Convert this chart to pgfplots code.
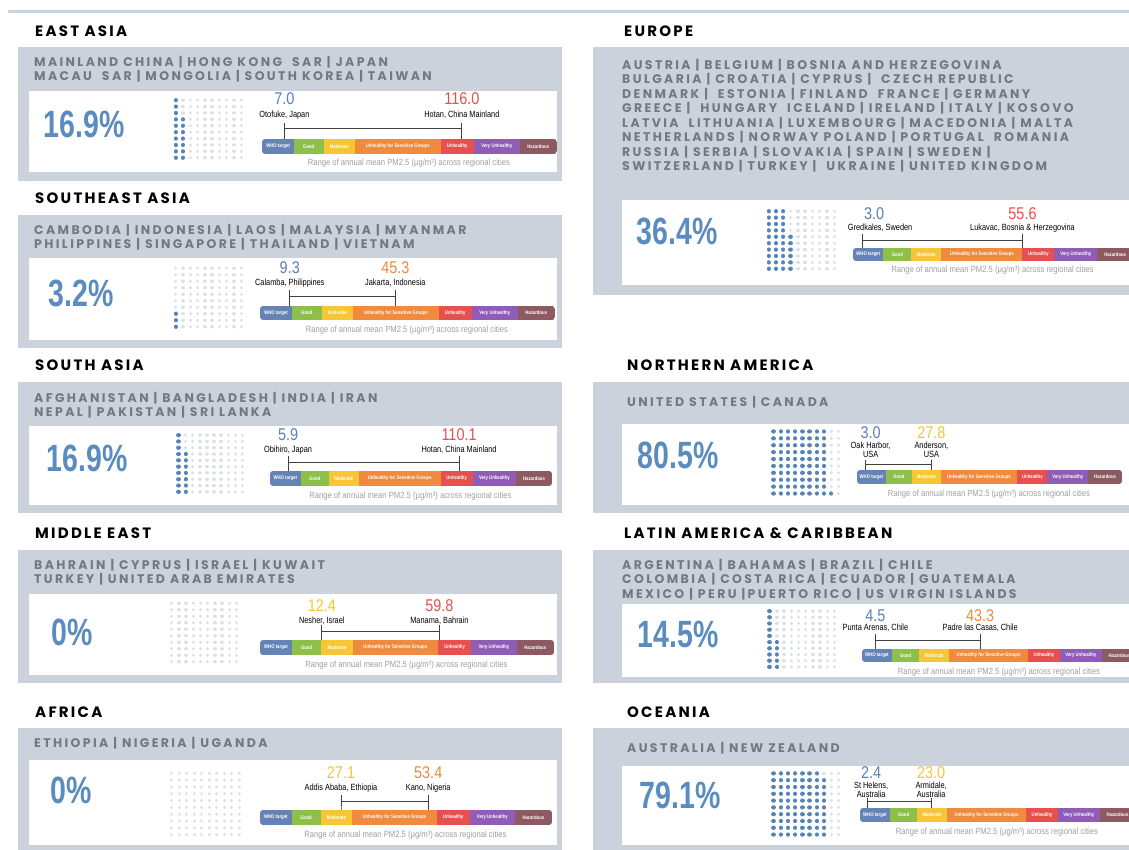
\documentclass[border=0pt]{standalone}
\usepackage{pgfplots}
\pgfplotsset{compat=1.18}
\usepackage{fontspec}
\setmainfont{Liberation Sans}
\newfontfamily\tfont[LetterSpace=15]{Poppins}
\newfontfamily\cfont[LetterSpace=19]{Poppins}
\newfontfamily\nfont[FakeStretch=0.75]{Liberation Sans}
\newfontfamily\mfont[FakeStretch=0.85]{Liberation Sans}
\newfontfamily\sfont[FakeStretch=0.82]{Liberation Sans}
\newfontfamily\kfont[FakeStretch=0.85]{Liberation Sans}

\definecolor{band}{HTML}{CBD2DC}
\definecolor{ctext}{HTML}{737983}
\definecolor{pct}{HTML}{5B8CBF}
\definecolor{wblue}{HTML}{5584B8}
\definecolor{wgrey}{HTML}{DCE0E6}
\definecolor{cWHO}{HTML}{6584B5}
\definecolor{cGood}{HTML}{8EBF48}
\definecolor{cMod}{HTML}{F6C637}
\definecolor{cUSG}{HTML}{EF8A3E}
\definecolor{cUnh}{HTML}{E6504F}
\definecolor{cVU}{HTML}{8F5CB6}
\definecolor{cHaz}{HTML}{8C5A60}
\definecolor{topline}{HTML}{C9D4E0}
\definecolor{capgrey}{HTML}{A0A0A0}
\definecolor{nblue}{HTML}{5B80B6}

\tikzset{
 ttl/.style={anchor=west, font=\fontsize{15}{17}\selectfont\tfont\bfseries, text=black, inner sep=0pt},
 ctry/.style={anchor=north west, align=left, font=\fontsize{12.5}{14.5}\selectfont\cfont\bfseries, text=ctext, inner sep=0pt},
 pctn/.style={font=\fontsize{38}{40}\selectfont\nfont\bfseries, text=pct, inner sep=0pt},
 numl/.style={font=\fontsize{17}{18}\selectfont\mfont, inner sep=0pt},
 lab/.style={font=\fontsize{9}{9.5}\selectfont\sfont, text=black, inner sep=0pt, align=center},
 capt/.style={font=\fontsize{9}{10}\selectfont\kfont, text=capgrey, inner sep=0pt},
 seg/.style={font=\fontsize{5.2}{6}\selectfont\sfont\bfseries, text=white, inner sep=0pt},
}

\pgfplotsset{
 rangeax/.style n args={3}{at={(#1pt,#2pt)}, anchor=south west, width=#3pt, height=10pt,
   scale only axis, xmin=0, xmax=500, ymin=0, ymax=10, hide axis, clip=false,
   xtick=\empty, ytick=\empty,
   x coord trafo/.code={\pgfmathparse{##1<10 ? ##1*3.2 : (##1<12 ? 32+(##1-10)*14.75 : (##1<35.4 ? 61.5+(##1-12)*1.34615 : (##1<55.4 ? 93+(##1-35.4)*4.275 : (##1<150.4 ? 178.5+(##1-55.4)*0.352632 : (##1<250.4 ? 212+(##1-150.4)*0.455 : 257.5+(##1-250.4)*0.150240)))))}}},
 waffax/.style n args={4}{at={(#1pt,#2pt)}, anchor=south west, width=#3pt, height=#4pt,
   scale only axis, xmin=0.5, xmax=10.5, ymin=0, ymax=10, hide axis, clip=false,
   xtick=\empty, ytick=\empty},
 wdots/.style={draw=#1, mark=none, line cap=round, unbounded coords=jump,
   dash pattern={on 0.01pt off \woff pt}, dash phase=\wph pt},
}
\newcommand\setw[1]{\pgfmathsetmacro\woff{#1/10-0.01}\pgfmathsetmacro\wph{#1/20}}
\newcommand\wafflebg{\addplot[wdots=wgrey, line width=3.4pt] coordinates {(1,0)(1,10)(1,nan)(2,0)(2,10)(2,nan)(3,0)(3,10)(3,nan)(4,0)(4,10)(4,nan)(5,0)(5,10)(5,nan)(6,0)(6,10)(6,nan)(7,0)(7,10)(7,nan)(8,0)(8,10)(8,nan)(9,0)(9,10)(9,nan)(10,0)(10,10)};}

% bar height, half height
\newcommand\scalebar[2]{%
 \begin{scope}
 \clip[rounded corners=3pt] (axis cs:0,0) rectangle (axis cs:500,#1);
 \fill[cWHO] (axis cs:0,0) rectangle (axis cs:10,#1);
 \fill[cGood] (axis cs:10,0) rectangle (axis cs:12,#1);
 \fill[cMod] (axis cs:12,0) rectangle (axis cs:35.4,#1);
 \fill[cUSG] (axis cs:35.4,0) rectangle (axis cs:55.4,#1);
 \fill[cUnh] (axis cs:55.4,0) rectangle (axis cs:150.4,#1);
 \fill[cVU] (axis cs:150.4,0) rectangle (axis cs:250.4,#1);
 \fill[cHaz] (axis cs:250.4,0) rectangle (axis cs:500,#1);
 \end{scope}
 \node[seg] at (axis cs:5,#2) {WHO target};
 \node[seg] at (axis cs:11,#2) {Good};
 \node[seg] at (axis cs:23.7,#2) {Moderate};
 \node[seg] at (axis cs:45.4,#2) {Unhealthy for Sensitive Groups};
 \node[seg] at (axis cs:102.9,#2) {Unhealthy};
 \node[seg] at (axis cs:200.4,#2) {Very Unhealthy};
 \node[seg] at (axis cs:375,#2) {Hazardous};
}

\begin{document}
\begin{tikzpicture}
\begin{axis}[name=main, at={(0,0)}, anchor=south west, width=1129pt, height=850pt,
  scale only axis, xmin=0, xmax=1129, ymin=0, ymax=850, y dir=reverse,
  hide axis, clip=false, xtick=\empty, ytick=\empty]
 \fill[white] (axis cs:0,0) rectangle (axis cs:1129,850);
 \draw[topline, line width=3pt] (axis cs:8,12) -- (axis cs:1129,12);
 % grey bands
 \fill[band] (axis cs:18,47) rectangle (axis cs:562,181);
 \fill[band] (axis cs:18,215) rectangle (axis cs:562,348);
 \fill[band] (axis cs:18,382) rectangle (axis cs:562,513);
 \fill[band] (axis cs:18,550) rectangle (axis cs:562,683);
 \fill[band] (axis cs:18,728) rectangle (axis cs:562,850);
 \fill[band] (axis cs:593,47) rectangle (axis cs:1129,295);
 \fill[band] (axis cs:593,382) rectangle (axis cs:1129,513);
 \fill[band] (axis cs:593,550) rectangle (axis cs:1129,683);
 \fill[band] (axis cs:593,728) rectangle (axis cs:1129,850);
 % white boxes
 \fill[white] (axis cs:29,91) rectangle (axis cs:557,172);
 \fill[white] (axis cs:29,258) rectangle (axis cs:557,340);
 \fill[white] (axis cs:29,426) rectangle (axis cs:557,505);
 \fill[white] (axis cs:29,594) rectangle (axis cs:557,675);
 \fill[white] (axis cs:29,760) rectangle (axis cs:557,845);
 \fill[white] (axis cs:622,200) rectangle (axis cs:1129,285);
 \fill[white] (axis cs:622,424) rectangle (axis cs:1129,505);
 \fill[white] (axis cs:622,604) rectangle (axis cs:1129,677);
 \fill[white] (axis cs:622,766) rectangle (axis cs:1129,845);
 % titles
 \node[ttl] at (axis cs:35,31) {EAST ASIA};
 \node[ttl] at (axis cs:35,198) {SOUTHEAST ASIA};
 \node[ttl] at (axis cs:35,365) {SOUTH ASIA};
 \node[ttl] at (axis cs:35,533) {MIDDLE EAST};
 \node[ttl] at (axis cs:35,712) {AFRICA};
 \node[ttl] at (axis cs:624,31) {EUROPE};
 \node[ttl] at (axis cs:627,365) {NORTHERN AMERICA};
 \node[ttl] at (axis cs:624,533) {LATIN AMERICA \& CARIBBEAN};
 \node[ttl] at (axis cs:627,712) {OCEANIA};
 % countries
 \node[ctry] at (axis cs:34,56) {MAINLAND CHINA | HONG KONG\ \ SAR | JAPAN\\MACAU\ \ SAR | MONGOLIA | SOUTH KOREA | TAIWAN};
 \node[ctry] at (axis cs:34,224) {CAMBODIA | INDONESIA | LAOS | MALAYSIA | MYANMAR\\PHILIPPINES | SINGAPORE | THAILAND | VIETNAM};
 \node[ctry] at (axis cs:34,392) {AFGHANISTAN | BANGLADESH | INDIA | IRAN\\NEPAL | PAKISTAN | SRI LANKA};
 \node[ctry] at (axis cs:34,559) {BAHRAIN | CYPRUS | ISRAEL | KUWAIT\\TURKEY | UNITED ARAB EMIRATES};
 \node[ctry] at (axis cs:34,737) {ETHIOPIA | NIGERIA | UGANDA};
 \node[ctry] at (axis cs:622,59) {AUSTRIA | BELGIUM | BOSNIA AND HERZEGOVINA\\BULGARIA | CROATIA | CYPRUS |\ \ CZECH REPUBLIC\\DENMARK |\ \ ESTONIA | FINLAND\ \ FRANCE | GERMANY\\GREECE |\ \ HUNGARY\ \ ICELAND | IRELAND | ITALY | KOSOVO\\LATVIA\ \ LITHUANIA | LUXEMBOURG | MACEDONIA | MALTA\\NETHERLANDS | NORWAY POLAND | PORTUGAL\ \ ROMANIA\\RUSSIA | SERBIA | SLOVAKIA | SPAIN | SWEDEN |\\SWITZERLAND | TURKEY |\ \ UKRAINE | UNITED KINGDOM};
 \node[ctry] at (axis cs:627,396) {UNITED STATES | CANADA};
 \node[ctry] at (axis cs:622,559) {ARGENTINA | BAHAMAS | BRAZIL | CHILE\\COLOMBIA | COSTA RICA | ECUADOR | GUATEMALA\\MEXICO | PERU |PUERTO RICO | US VIRGIN ISLANDS};
 \node[ctry] at (axis cs:627,742) {AUSTRALIA | NEW ZEALAND};
 % percentages
 \node[pctn] at (axis cs:84,124) {16.9\%};
 \node[pctn] at (axis cs:81,293) {3.2\%};
 \node[pctn] at (axis cs:87,458) {16.9\%};
 \node[pctn] at (axis cs:72,632) {0\%};
 \node[pctn] at (axis cs:71,790) {0\%};
 \node[pctn] at (axis cs:677,231) {36.4\%};
 \node[pctn] at (axis cs:678,455) {80.5\%};
 \node[pctn] at (axis cs:678,634) {14.5\%};
 \node[pctn] at (axis cs:680,795) {79.1\%};
\end{axis}

% ---------------- waffles ----------------
\setw{64}
\begin{axis}[waffax={172}{689}{73}{64}]
 \wafflebg
 \addplot[wdots=wblue, line width=4.3pt] coordinates {(1,0)(1,10)(1,nan)(2,0)(2,7)};
\end{axis}
\setw{65}
\begin{axis}[waffax={172}{520}{73}{65}]
 \wafflebg
 \addplot[wdots=wblue, line width=4.3pt] coordinates {(1,0)(1,3)};
\end{axis}
\setw{63}
\begin{axis}[waffax={175}{355}{71}{63}]
 \wafflebg
 \addplot[wdots=wblue, line width=4.3pt] coordinates {(1,0)(1,10)(1,nan)(2,0)(2,7)};
\end{axis}
\setw{65}
\begin{axis}[waffax={168}{185}{72}{65}]
 \wafflebg
\end{axis}
\setw{68}
\begin{axis}[waffax={168}{12}{75}{68}]
 \wafflebg
\end{axis}
\setw{64}
\begin{axis}[waffax={765}{578}{73}{64}]
 \wafflebg
 \addplot[wdots=wblue, line width=4.3pt] coordinates {(1,0)(1,10)(1,nan)(2,0)(2,10)(2,nan)(3,0)(3,10)(3,nan)(4,0)(4,6)};
\end{axis}
\setw{69}
\begin{axis}[waffax={770}{353}{72}{69}]
 \wafflebg
 \addplot[wdots=wblue, line width=4.3pt] coordinates {(1,0)(1,10)(1,nan)(2,0)(2,10)(2,nan)(3,0)(3,10)(3,nan)(4,0)(4,10)(4,nan)(5,0)(5,10)(5,nan)(6,0)(6,10)(6,nan)(7,0)(7,10)(7,nan)(8,0)(8,10)(8,nan)(9,0)(9,1)};
\end{axis}
\setw{62}
\begin{axis}[waffax={766}{180}{72}{62}]
 \wafflebg
 \addplot[wdots=wblue, line width=4.3pt] coordinates {(1,0)(1,10)(1,nan)(2,0)(2,5)};
\end{axis}
\setw{68}
\begin{axis}[waffax={770}{12}{72}{68}]
 \wafflebg
 \addplot[wdots=wblue, line width=4.3pt] coordinates {(1,0)(1,10)(1,nan)(2,0)(2,10)(2,nan)(3,0)(3,10)(3,nan)(4,0)(4,10)(4,nan)(5,0)(5,10)(5,nan)(6,0)(6,10)(6,nan)(7,0)(7,10)(7,nan)(8,0)(8,9)};
\end{axis}

% ---------------- ranges ----------------
% East Asia
\begin{axis}[rangeax={262}{696}{295}]
 \scalebar{15}{7.5}
 \addplot[black!75, line width=0.8pt, mark=none] coordinates {(7.0,31)(7.0,15)(7.0,26)(116.0,26)(116.0,31)(116.0,15)};
 \node[numl, text=nblue] at (axis cs:7.0,55) {7.0};
 \node[numl, text=cUnh] at (axis cs:116.0,55) {116.0};
 \node[lab] at (axis cs:7.0,39) {Otofuke, Japan};
 \node[lab] at (axis cs:116.0,39) {Hotan, China Mainland};
 \node[capt] at (axis cs:48,-9) {Range of annual mean PM2.5 (μg/m³) across regional cities};
\end{axis}
% Southeast Asia
\begin{axis}[rangeax={260}{530}{295}]
 \scalebar{14}{7}
 \addplot[black!75, line width=0.8pt, mark=none] coordinates {(9.3,30)(9.3,14)(9.3,24)(45.3,24)(45.3,30)(45.3,14)};
 \node[numl, text=nblue] at (axis cs:9.3,52) {9.3};
 \node[numl, text=cUSG] at (axis cs:45.3,52) {45.3};
 \node[lab] at (axis cs:9.3,37) {Calamba, Philippines};
 \node[lab] at (axis cs:45.3,37) {Jakarta, Indonesia};
 \node[capt] at (axis cs:48,-10) {Range of annual mean PM2.5 (μg/m³) across regional cities};
\end{axis}
% South Asia
\begin{axis}[rangeax={270}{364}{282}]
 \scalebar{15}{7.5}
 \addplot[black!75, line width=0.8pt, mark=none] coordinates {(5.9,30)(5.9,15)(5.9,24)(110.1,24)(110.1,30)(110.1,15)};
 \node[numl, text=nblue] at (axis cs:5.9,51) {5.9};
 \node[numl, text=cUnh] at (axis cs:110.1,51) {110.1};
 \node[lab] at (axis cs:5.9,36) {Obihiro, Japan};
 \node[lab] at (axis cs:110.1,36) {Hotan, China Mainland};
 \node[capt] at (axis cs:48,-10) {Range of annual mean PM2.5 (μg/m³) across regional cities};
\end{axis}
% Middle East
\begin{axis}[rangeax={260}{195}{294}]
 \scalebar{15}{7.5}
 \addplot[black!75, line width=0.8pt, mark=none] coordinates {(12.4,30)(12.4,15)(12.4,24)(59.8,24)(59.8,30)(59.8,15)};
 \node[numl, text=cMod] at (axis cs:12.4,49) {12.4};
 \node[numl, text=cUnh] at (axis cs:59.8,49) {59.8};
 \node[lab] at (axis cs:12.4,34) {Nesher, Israel};
 \node[lab] at (axis cs:59.8,34) {Manama, Bahrain};
 \node[capt] at (axis cs:48,-10) {Range of annual mean PM2.5 (μg/m³) across regional cities};
\end{axis}
% Africa
\begin{axis}[rangeax={260}{25}{292}]
 \scalebar{15}{7.5}
 \addplot[black!75, line width=0.8pt, mark=none] coordinates {(27.1,30)(27.1,15)(27.1,24)(53.4,24)(53.4,30)(53.4,15)};
 \node[numl, text=cMod] at (axis cs:27.1,52) {27.1};
 \node[numl, text=cUSG] at (axis cs:53.4,52) {53.4};
 \node[lab] at (axis cs:27.1,37) {Addis Ababa, Ethiopia};
 \node[lab] at (axis cs:53.4,37) {Kano, Nigeria};
 \node[capt] at (axis cs:48,-10) {Range of annual mean PM2.5 (μg/m³) across regional cities};
\end{axis}
% Europe
\begin{axis}[rangeax={853}{589}{280}]
 \scalebar{13}{6.5}
 \addplot[black!75, line width=0.8pt, mark=none] coordinates {(3.0,27)(3.0,13)(3.0,21)(55.6,21)(55.6,27)(55.6,13)};
 \node[numl, text=nblue, xshift=12pt] at (axis cs:3.0,47) {3.0};
 \node[numl, text=cUnh] at (axis cs:55.6,47) {55.6};
 \node[lab, xshift=18pt] at (axis cs:3.0,33) {Gredkales, Sweden};
 \node[lab] at (axis cs:55.6,33) {Lukavac, Bosnia \& Herzegovina};
 \node[capt] at (axis cs:48,-9) {Range of annual mean PM2.5 (μg/m³) across regional cities};
\end{axis}
% Northern America
\begin{axis}[rangeax={857}{366}{265}]
 \scalebar{14}{7}
 \addplot[black!75, line width=0.8pt, mark=none] coordinates {(3.0,24)(3.0,14)(3.0,20)(27.8,20)(27.8,24)(27.8,14)};
 \node[numl, text=nblue, xshift=5pt] at (axis cs:3.0,51) {3.0};
 \node[numl, text=cMod] at (axis cs:27.8,51) {27.8};
 \node[lab, xshift=5pt] at (axis cs:3.0,34) {Oak Harbor,\\USA};
 \node[lab] at (axis cs:27.8,34) {Anderson,\\USA};
 \node[capt] at (axis cs:48,-10) {Range of annual mean PM2.5 (μg/m³) across regional cities};
\end{axis}
% Latin America
\begin{axis}[rangeax={862}{188}{275}]
 \scalebar{13}{6.5}
 \addplot[black!75, line width=0.8pt, mark=none] coordinates {(4.5,28)(4.5,13)(4.5,22)(43.3,22)(43.3,28)(43.3,13)};
 \node[numl, text=nblue] at (axis cs:4.5,46) {4.5};
 \node[numl, text=cUSG] at (axis cs:43.3,46) {43.3};
 \node[lab] at (axis cs:4.5,34) {Punta Arenas, Chile};
 \node[lab] at (axis cs:43.3,34) {Padre las Casas, Chile};
 \node[capt] at (axis cs:48,-10) {Range of annual mean PM2.5 (μg/m³) across regional cities};
\end{axis}
% Oceania
\begin{axis}[rangeax={860}{28}{275}]
 \scalebar{14}{7}
 \addplot[black!75, line width=0.8pt, mark=none] coordinates {(2.4,24)(2.4,14)(2.4,21)(23.0,21)(23.0,24)(23.0,14)};
 \node[numl, text=nblue, xshift=4pt] at (axis cs:2.4,49) {2.4};
 \node[numl, text=cMod] at (axis cs:23.0,49) {23.0};
 \node[lab, xshift=4pt] at (axis cs:2.4,32) {St Helens,\\Australia};
 \node[lab] at (axis cs:23.0,32) {Armidale,\\Australia};
 \node[capt] at (axis cs:48,-10) {Range of annual mean PM2.5 (μg/m³) across regional cities};
\end{axis}
\pgfresetboundingbox
\path (0,0) rectangle (1129pt,850pt);
\end{tikzpicture}
\end{document}
